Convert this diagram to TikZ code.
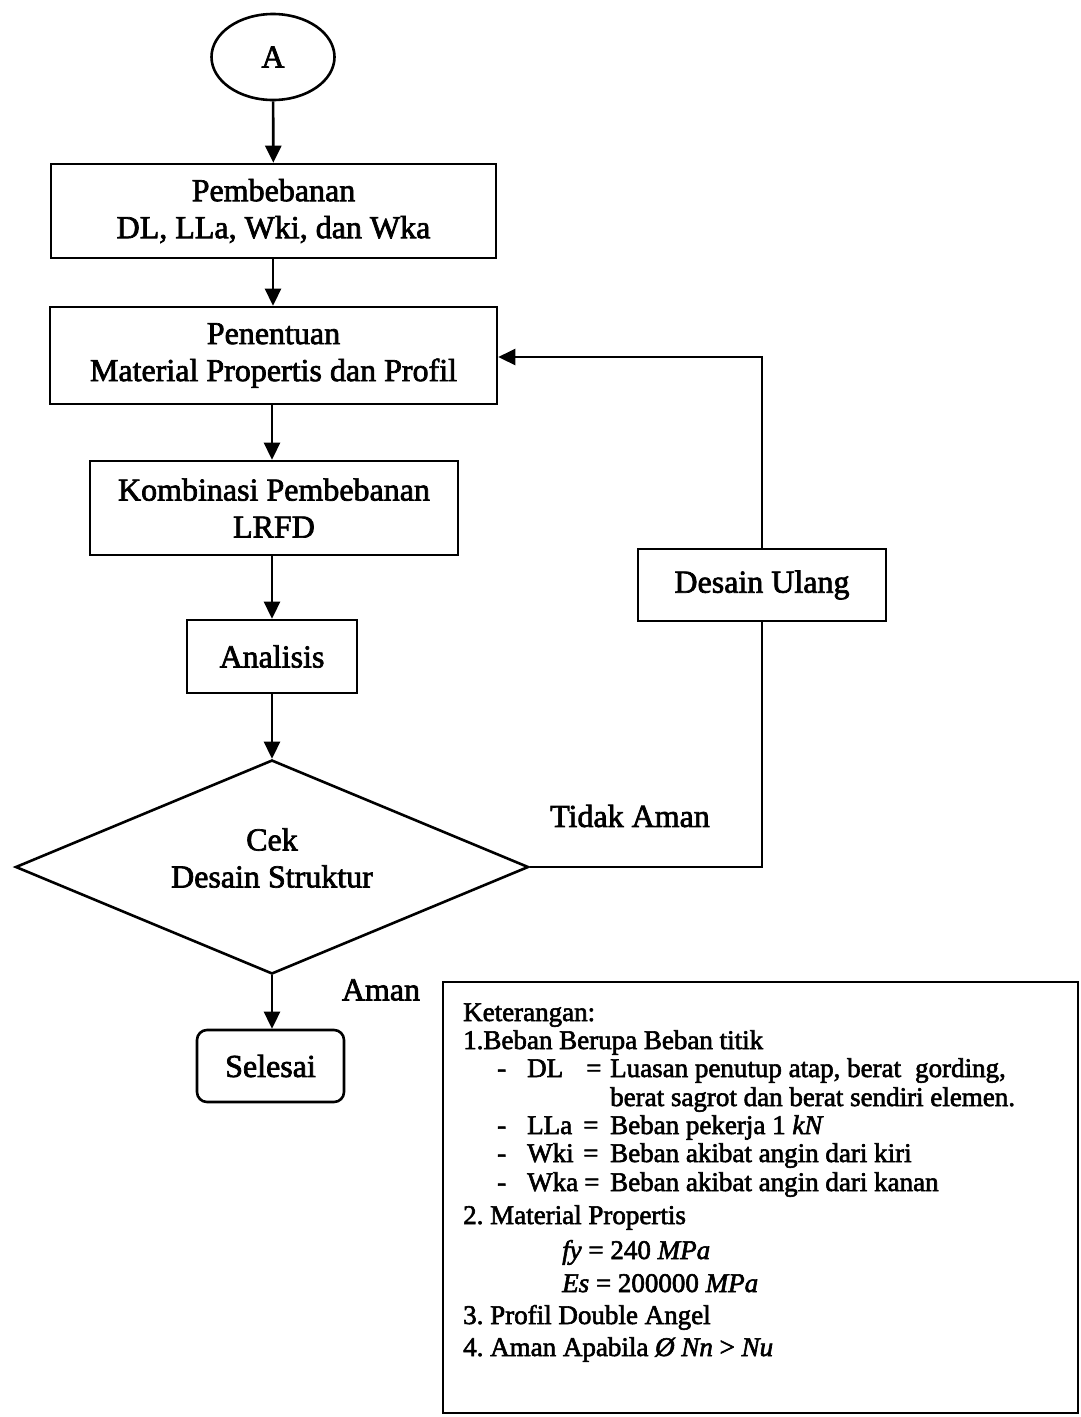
\documentclass[tikz,border=0pt]{standalone}
\usepackage{fontspec}
\setmainfont{Liberation Serif}[FakeBold=2.2]
\usetikzlibrary{shapes.geometric,arrows.meta}
\begin{document}
\begin{tikzpicture}[x=1pt,y=-1pt,
  outline/.style={draw, line width=2.6pt, inner sep=0pt, align=center,
    font=\fontsize{32}{37}\selectfont},
  procbox/.style={outline, rectangle},
  link/.style={line width=2.6pt},
  arrowlink/.style={link, -{Triangle[length=17pt,width=16pt]}},
  legendtext/.style={anchor=base west, inner sep=0pt, font=\fontsize{27}{30}\selectfont},
  flowlabel/.style={inner sep=0pt, align=center, font=\fontsize{32}{37}\selectfont}
]
\useasboundingbox (0,0) rectangle (1081,1417);

% main flow
\node[outline, ellipse, minimum width=123pt, minimum height=86pt] (start) at (273,57) {A};
\node[procbox, minimum width=445pt, minimum height=94pt] (load) at (273.5,211)
  {Pembebanan\\DL, LLa, Wki, dan Wka};
\node[procbox, minimum width=447pt, minimum height=97pt] (mat) at (273.5,355.5)
  {Penentuan\\Material Propertis dan Profil};
\node[procbox, minimum width=368pt, minimum height=94pt] (comb) at (274,508)
  {Kombinasi Pembebanan\\LRFD};
\node[procbox, minimum width=170pt, minimum height=73pt] (anal) at (272,656.5) {Analisis};
\node[outline, diamond, aspect=2.4, minimum width=513pt, minimum height=214pt] (check) at (272,867) {};
\node[flowlabel] (checktext) at (272,858) {Cek\\Desain Struktur};
\node[procbox, rounded corners=10pt, minimum width=147pt, minimum height=72pt] (done) at (270.5,1066) {Selesai};
\node[procbox, minimum width=248pt, minimum height=72pt] (redo) at (762,585) {Desain Ulang};

\draw[arrowlink] (start) -- (load);
\draw[arrowlink] (load.south -| start) -- (mat.north -| start);
\draw[arrowlink] (mat.south -| check.north) -- (comb.north -| check.north);
\draw[arrowlink] (comb.south -| check.north) -- (anal.north -| check.north);
\draw[arrowlink] (anal.south -| check.north) -- (check.north);
\draw[arrowlink] (check.south) -- (done.north -| check.south);

% redesign loop
\coordinate (loopA) at (762,867);
\coordinate (loopB) at (762,357);
\draw[link] (check.east) -- (loopA) -- (redo.south);
\draw[arrowlink] (redo.north) -- (loopB) -- (loopB -| mat.east);

\node[flowlabel] (unsafe) at (630,816) {Tidak Aman};
\node[flowlabel] (safe) at (381,990) {Aman};

% notes
\node[draw, line width=2.4pt, minimum width=635pt, minimum height=431pt, inner sep=0pt] (notes) at (760.5,1197.5) {};
\node[legendtext] (n0) at (463,1021) {Keterangan:};
\node[legendtext] (n1) at (463,1049) {1.Beban Berupa Beban titik};
\node[legendtext] (d1) at (497,1077) {-};
\node[legendtext] (s1) at (527,1077) {DL};
\node[legendtext] (e1) at (586,1077) {=};
\node[legendtext] (t1) at (610,1077) {Luasan penutup atap, berat\hspace{14pt}gording,};
\node[legendtext] (t1b) at (610,1106) {berat sagrot dan berat sendiri elemen.};
\node[legendtext] (d2) at (497,1134) {-};
\node[legendtext] (s2) at (527,1134) {LLa};
\node[legendtext] (e2) at (583,1134) {=};
\node[legendtext] (t2) at (610,1134) {Beban pekerja 1 \textit{kN}};
\node[legendtext] (d3) at (497,1162) {-};
\node[legendtext] (s3) at (527,1162) {Wki};
\node[legendtext] (e3) at (583,1162) {=};
\node[legendtext] (t3) at (610,1162) {Beban akibat angin dari kiri};
\node[legendtext] (d4) at (497,1191) {-};
\node[legendtext] (s4) at (527,1191) {Wka};
\node[legendtext] (e4) at (584,1191) {=};
\node[legendtext] (t4) at (610,1191) {Beban akibat angin dari kanan};
\node[legendtext] (n2) at (463,1224) {2.\ Material Propertis};
\node[legendtext] (n2a) at (562,1259) {\textit{fy} = 240 \textit{MPa}};
\node[legendtext] (n2b) at (562,1292) {\textit{Es} = 200000 \textit{MPa}};
\node[legendtext] (n3) at (463,1324) {3.\ Profil Double Angel};
\node[legendtext] (n4) at (463,1356) {4.\ Aman Apabila \textit{Ø Nn} > \textit{Nu}};
\end{tikzpicture}
\end{document}
